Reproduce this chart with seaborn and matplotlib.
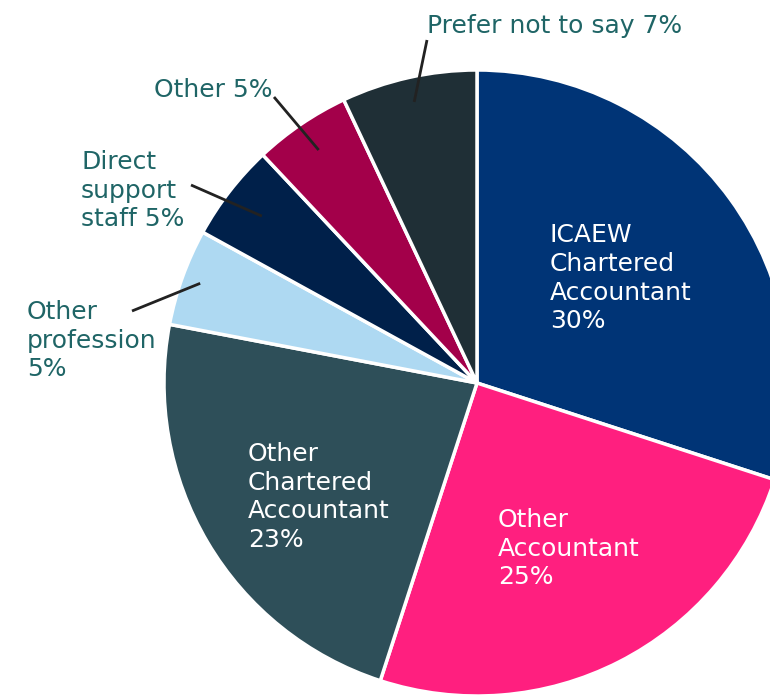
import numpy as np
import matplotlib.pyplot as plt
import seaborn as sns

# --- Data ---
categories = ["ICAEW Chartered Accountant", "Other Accountant", "Other Chartered Accountant",
              "Other profession", "Direct support staff", "Other", "Prefer not to say"]
shares = [30, 25, 23, 5, 5, 5, 7]
wedge_labels = ["ICAEW\nChartered\nAccountant\n30%", "Other\nAccountant\n25%",
                "Other\nChartered\nAccountant\n23%", "Other\nprofession\n5%",
                "Direct\nsupport\nstaff 5%", "Other 5%", "Prefer not to say 7%"]
colors = ["#003476", "#FF1F7F", "#2E4F59", "#AED9F2", "#00204A", "#A3004A", "#1F2F36"]

# --- Layout (pixels in a 770x697 frame, pie centre at 477,383, radius 313) ---
CX, CY, R = 477, 383, 313
inside = {0: (550, 223), 1: (498, 508), 2: (248, 442)}
outside = {3: (27, 300), 4: (81, 150), 5: (154, 78), 6: (427, 14)}
leader_start = {3: (132, 311), 4: (191, 185), 5: (274, 97), 6: (427, 40)}
leader_r = {3: 0.94, 4: 0.87, 5: 0.9, 6: 0.92}

TEAL = "#1F6566"


def px(x, y):
    return (x - CX) / R, (CY - y) / R


sns.set_theme(style="white")
plt.rcParams['font.family'] = ['DejaVu Sans']

fig = plt.figure(figsize=(7.7, 6.97), dpi=100)
ax = fig.add_axes([0, 0, 1, 1])

wedges, _ = ax.pie(shares, colors=colors, startangle=90, counterclock=False,
                   radius=1.0, wedgeprops=dict(edgecolor="white", linewidth=2.5))
ax.set_aspect('auto')
ax.set_xlim(-CX / R, (770 - CX) / R)
ax.set_ylim(-(697 - CY) / R, CY / R)
ax.axis('off')

for i, w in enumerate(wedges):
    label = wedge_labels[i]
    if i in inside:
        x, y = px(*inside[i])
        ax.text(x, y, label, color="white", fontsize=18, ha="left", va="top",
                linespacing=1.25)
    else:
        x, y = px(*outside[i])
        ax.text(x, y, label, color=TEAL, fontsize=18, ha="left", va="top",
                linespacing=1.25)
        mid = np.deg2rad((w.theta1 + w.theta2) / 2)
        ex, ey = leader_r[i] * np.cos(mid), leader_r[i] * np.sin(mid)
        sx, sy = px(*leader_start[i])
        ax.plot([sx, ex], [sy, ey], color="#222222", lw=2, solid_capstyle="butt")

fig.savefig("out.png", dpi=100)
